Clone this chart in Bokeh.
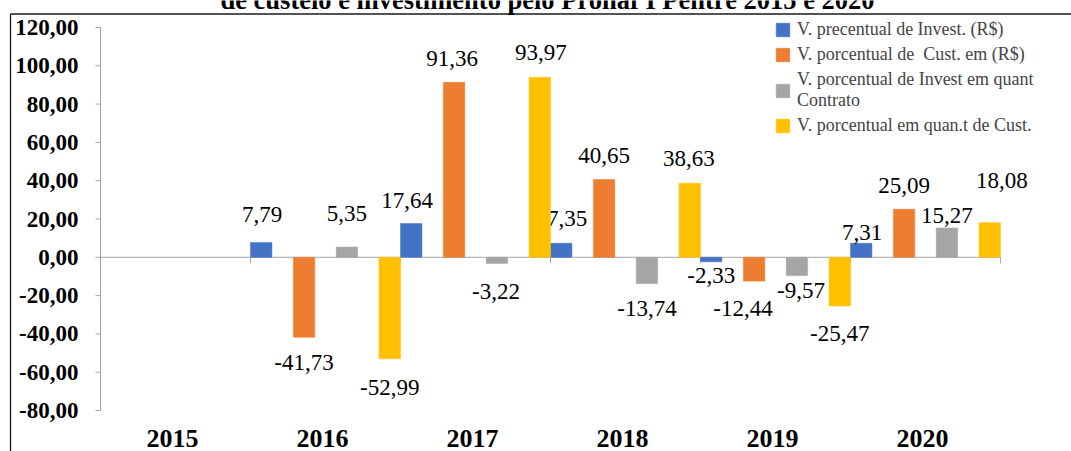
from bokeh.plotting import figure
from bokeh.models import Range1d, Legend, LegendItem, ColumnDataSource
from bokeh.transform import dodge
from bokeh.core.properties import value
from bokeh.embed import file_html
from bokeh.resources import INLINE

# ---------------- data ----------------
years = [2015, 2016, 2017, 2018, 2019, 2020]
year_labels = ["2015", "2016", "2017", "2018", "2019", "2020"]
data_years = [2016, 2017, 2018, 2019, 2020]
invest_rs = [7.79, 17.64, 7.35, -2.33, 7.31]
custeio_rs = [-41.73, 91.36, 40.65, -12.44, 25.09]
invest_qt = [5.35, -3.22, -13.74, -9.57, 15.27]
custeio_qt = [-52.99, 93.97, 38.63, -25.47, 18.08]
series_names = [
    "V. precentual de Invest. (R$)",
    "V. porcentual de  Cust. em (R$)",
    "V. porcentual de Invest em quant\nContrato",
    "V. porcentual em quan.t de Cust.",
]
y_ticks = [-80, -60, -40, -20, 0, 20, 40, 60, 80, 100, 120]
y_tick_labels = ["-80,00", "-60,00", "-40,00", "-20,00", "0,00", "20,00",
                 "40,00", "60,00", "80,00", "100,00", "120,00"]
title_text = "de custeio e investimento pelo Pronaf I Pentre 2015 e 2020"

# ---------------- layout / styles ----------------
W, H = 1071, 451
plot_left, plot_top, plot_bottom = 100, 27, 410   # pixel box of the value axis
cat_px = 150                                       # pixels per year category
y_min, y_max = y_ticks[0], y_ticks[-1]
px_per_y = (plot_bottom - plot_top) / (y_max - y_min)
axis_x = years[0] - 0.5
x_start = axis_x - plot_left / cat_px
x_end = axis_x + (W - plot_left) / cat_px
y_start = y_min - (H - plot_bottom) / px_per_y
y_end = y_max + plot_top / px_per_y
# chart box (border) and cut-off caption, in pixels
box_left, box_top = 10, 13.5
title_cx, title_base = 547, -1

colors = ["#4472C4", "#ED7D31", "#A5A5A5", "#FFC000"]
offsets = [-3 / 7, -1 / 7, 1 / 7, 3 / 7]
bar_width = 1 / 7
axis_color = "#a6a6a6"
serif = "Liberation Serif"
# label nudges in pixels (dx right, dy down) relative to bar end
label_dx = [[1, -4, 6, 0, 1], [0, -2, 0, -11, 0], [0, -1, 0, 4, 0], [0, 1, -1, 0, 12]]
label_dy = [[-28, -23, -25, 14, -11], [25, -24, -24, 27, -24],
            [-34, 28, 25, 15, -13], [29, -25, -25, 27, -42]]

p = figure(width=W, height=H,
           x_range=Range1d(x_start, x_end), y_range=Range1d(y_start, y_end),
           x_axis_type=None, y_axis_type=None,
           min_border=0, min_border_left=0, min_border_right=0,
           min_border_top=0, min_border_bottom=0,
           output_backend="svg", toolbar_location=None)
p.outline_line_color = None
p.xgrid.grid_line_color = None
p.ygrid.grid_line_color = None
p.background_fill_color = "white"
p.border_fill_color = "white"

# ---- chart box border (top and left edges) ----
bx = x_start + box_left / cat_px
by = y_end - box_top / px_per_y
p.segment(x0=[bx, bx], y0=[by, by], x1=[x_end, bx], y1=[by, y_start],
          line_color="#1a1a1a", line_width=1.3)

# ---- cut-off caption above the box ----
p.text(x=[x_start + title_cx / cat_px], y=[y_end - title_base / px_per_y],
       text=[title_text], text_font=value(serif), text_font_style="bold",
       text_font_size="26.5px", text_align="center", text_baseline="alphabetic",
       text_color="black")

# ---- value axis (left) ----
tick_len_x = 5 / cat_px
ysrc = ColumnDataSource(dict(y=y_ticks, label=y_tick_labels,
                             x=[axis_x] * len(y_ticks)))
p.segment(x0=axis_x, y0=y_min, x1=axis_x, y1=y_max, line_color=axis_color, line_width=1)
p.segment(x0=dodge("x", -tick_len_x), y0="y", x1="x", y1="y", source=ysrc,
          line_color=axis_color, line_width=1)
p.text(x="x", y="y", text="label", source=ysrc, x_offset=-22,
       text_font=value(serif), text_font_style="bold", text_font_size="23px",
       text_align="right", text_baseline="middle", text_color="black")

# ---- category axis (zero line, boundary ticks, year labels) ----
p.segment(x0=axis_x, y0=0, x1=years[-1] + 0.5, y1=0, line_color=axis_color, line_width=1)
bsrc = ColumnDataSource(dict(x=years + [years[-1] + 1]))
p.segment(x0=dodge("x", -0.5), y0=0, x1=dodge("x", -0.5), y1=-6 / px_per_y,
          source=bsrc, line_color=axis_color, line_width=1)
xsrc = ColumnDataSource(dict(x=years, label=year_labels, y=[y_min] * len(years)))
p.text(x=dodge("x", -0.02), y="y", text="label", source=xsrc, y_offset=28,
       text_font=value(serif), text_font_style="bold", text_font_size="26px",
       text_align="center", text_baseline="middle", text_color="black")

# ---- bars and data labels ----
series_values = [invest_rs, custeio_rs, invest_qt, custeio_qt]
items = []
for i, vals in enumerate(series_values):
    src = ColumnDataSource(dict(
        x=data_years, y=vals,
        label=[f"{v:.2f}".replace(".", ",") for v in vals],
        dx=label_dx[i], dy=label_dy[i]))
    r = p.vbar(x=dodge("x", offsets[i]), top="y", bottom=0,
               width=bar_width, source=src, fill_color=colors[i],
               line_color=colors[i], line_width=0.5)
    p.text(x=dodge("x", offsets[i]), y="y", text="label",
           x_offset="dx", y_offset="dy", source=src,
           text_font=value(serif), text_font_size="23px",
           text_align="center", text_baseline="middle", text_color="black")
    items.append(LegendItem(label=series_names[i], renderers=[r]))

legend = Legend(items=items, location=(774, H - 136), padding=0, margin=0,
                spacing=4, glyph_width=17, glyph_height=17, label_standoff=6,
                label_height=20, label_text_line_height=1.2,
                label_text_font=serif, label_text_font_size="18px",
                border_line_color=None, background_fill_alpha=0)
p.add_layout(legend)

open("out.html", "w").write(file_html(p, INLINE))
